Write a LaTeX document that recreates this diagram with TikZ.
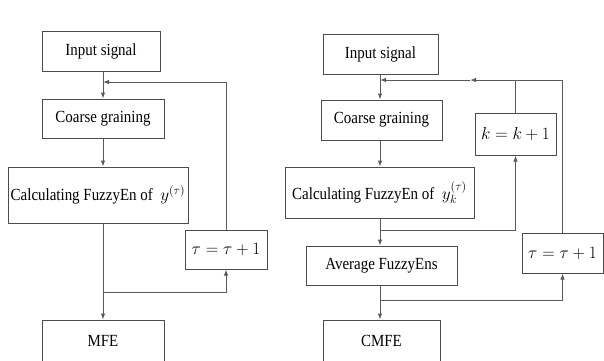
\documentclass[tikz,border=0pt]{standalone}
\usepackage{fontspec}
\setmainfont[FakeStretch=0.88]{Liberation Serif}
\usetikzlibrary{arrows.meta}
\begin{document}
\begin{tikzpicture}[x=1pt,y=-1pt,
    box/.style={draw=black!70,line width=1pt,inner sep=0pt,font=\fontsize{17}{20}\selectfont},
    wire/.style={draw=black!65,line width=1pt},
    flow/.style={wire,-{Latex[length=6pt,width=4.5pt]}}]
    \useasboundingbox (0,0) rectangle (604,360);
    \clip (0,0) rectangle (604,360);
    % MFE
    \node[box,minimum width=118pt,minimum height=40pt] (in1) at (101,51) {Input signal};
    \node[box,minimum width=122pt,minimum height=39pt] (cg1) at (103,118.5) {Coarse graining};
    \node[box,minimum width=180pt,minimum height=56pt] (calc1) at (98,195) {Calculating FuzzyEn of \ $y^{(\tau)}$};
    \node[box,minimum width=82pt,minimum height=39pt] (tau1) at (226,249.5) {$\tau=\tau+1$};
    \node[box,minimum width=122pt,minimum height=42pt] (mfe1) at (103,341) {MFE};
    \coordinate (j1) at (103,82);
    \coordinate (b1) at (103,292);
    %
    \draw[flow] (in1.south -| cg1) -- (cg1.north);
    \draw[flow] (cg1.south) -- (cg1.south |- calc1.north);
    \draw[flow] (calc1.south -| cg1) -- (mfe1.north);
    \draw[flow] (b1) -| (tau1.south);
    \draw[flow] (tau1.north) |- (j1);
    %
    % CMFE
    \node[box,minimum width=115pt,minimum height=40pt] (in2) at (380.5,54) {Input signal};
    \node[box,minimum width=121pt,minimum height=40pt] (cg2) at (381.5,120) {Coarse graining};
    \node[box,minimum width=81pt,minimum height=42pt] (k2) at (515.5,134) {$k=k+1$};
    \node[box,minimum width=189pt,minimum height=51pt] (calc2) at (379.5,192.5) {Calculating FuzzyEn of \ $y_k^{(\tau)}$};
    \node[box,minimum width=151pt,minimum height=39pt] (avg2) at (381.5,265.5) {Average FuzzyEns};
    \node[box,minimum width=81pt,minimum height=40pt] (tau2) at (562.5,253) {$\tau=\tau+1$};
    \node[box,minimum width=117pt,minimum height=42pt] (cmfe2) at (381.5,341) {CMFE};
    \coordinate (j2) at (380,80);
    \coordinate (jm) at (470,80);
    \coordinate (bk) at (380,230);
    \coordinate (bt) at (380,300);
    %
    \draw[flow] (in2.south -| j2) -- (cg2.north -| j2);
    \draw[flow] (cg2.south -| j2) -- (calc2.north -| j2);
    \draw[flow] (calc2.south -| j2) -- (avg2.north -| j2);
    \draw[flow] (avg2.south -| j2) -- (cmfe2.north -| j2);
    \draw[flow] (bk) -| (k2.south);
    \draw[flow] (bt) -| (tau2.south);
    \draw[flow] (k2.north) |- (jm);
    \draw[wire] (tau2.north) |- (k2.north |- jm);
    \draw[flow] (jm) -- (j2);
\end{tikzpicture}
\end{document}
